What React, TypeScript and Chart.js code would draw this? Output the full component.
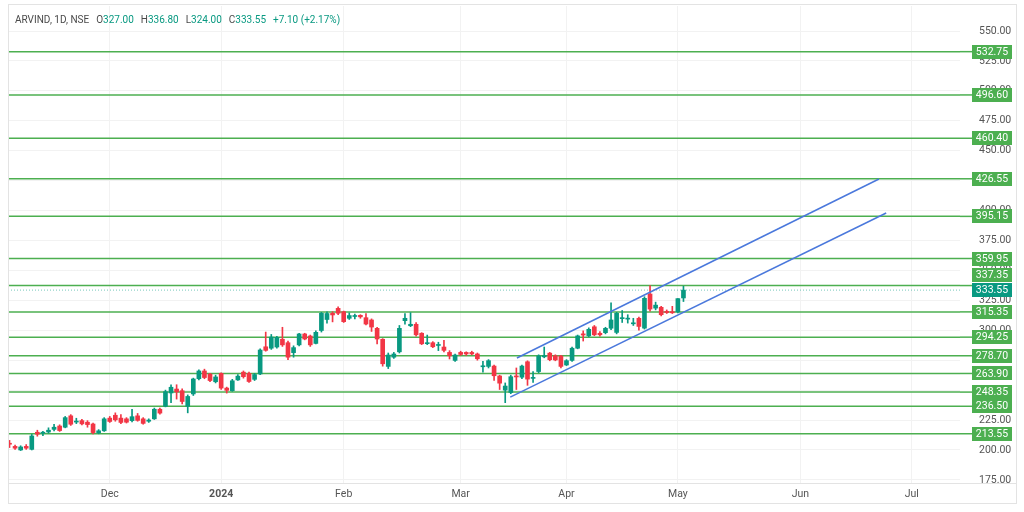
import React, { useEffect, useRef } from "react";
import { Chart, registerables } from "chart.js";

Chart.register(...registerables);

const FONT = "Roboto, 'Noto Sans', sans-serif";
const UP = "#089981";
const DOWN = "#f23645";
const LEVEL_GREEN = "#4caf50";
const CHANNEL_BLUE = "#4a78dc";

const headerSymbol = "ARVIND, 1D, NSE";
const headerOpen = "327.00";
const headerHigh = "336.80";
const headerLow = "324.00";
const headerClose = "333.55";
const headerChange = "+7.10 (+2.17%)";

const opens = [
  205.5, 203, 200, 203, 200.5, 214.8, 214, 215, 217.2, 220,
  219, 228.5, 223.3, 224.5, 223.2, 221.7, 214.3, 216, 226.6, 229,
  226.6, 226, 224.5, 228.5, 226, 224, 226, 234, 236.5, 247.6,
  250.9, 249.5, 236.5, 246.8, 259.5, 266, 263.4, 257, 264, 251.7,
  249.5, 258.5, 265, 264, 259, 263.5, 286.2, 285, 286, 292.5,
  289.6, 281.3, 287.8, 296.9, 295.2, 289, 299.8, 309, 314.2, 318.3,
  315.5, 310, 311.5, 312.5, 310.5, 308.6, 301.6, 292.5, 269.8, 277.5,
  282, 308, 303.8, 305, 297.5, 288.8, 289.6, 287.3, 286, 281.5,
  274.8, 281.5, 281.5, 281.5, 280.2, 269.5, 269.8, 270.1, 261.8, 250,
  248, 261.5, 260.8, 273.7, 259.8, 265.5, 277.8, 280.9, 278.7, 278.5,
  271, 274.8, 285, 297, 295.3, 302.9, 297.5, 298, 301.7, 298.2,
  309.7, 309.3, 305.4, 310, 301.8, 330.3, 318.5, 319.2, 315.8, 315.5,
  315.4, 327,
];
const highs = [
  208, 204, 203.5, 204.5, 213, 216.5, 215.5, 218.5, 221.5, 221,
  228, 229.5, 226.5, 225.5, 224.5, 222.5, 217, 227, 228, 231,
  229.5, 227, 234, 230.5, 227, 226, 235, 235, 250, 254.5,
  254.5, 251, 246, 260, 267, 267.5, 264, 262.5, 264.5, 252.5,
  259, 263, 266, 265, 264, 284.5, 298.5, 296.5, 295, 302.5,
  291, 287, 297.5, 297.5, 296, 299.5, 315, 315.5, 315.5, 319.5,
  316, 314.5, 313.5, 313, 314, 309.5, 302.5, 293, 281, 281.5,
  304, 314, 314.7, 306.5, 298, 296, 290.5, 290, 291.5, 283,
  280, 282.5, 282, 282.5, 281, 274, 275.5, 271, 262.5, 256,
  262.5, 268.5, 271, 274.5, 265.5, 279.5, 286, 281.5, 279.5, 279,
  275.5, 286, 296, 299.5, 302, 304, 299, 302.5, 323, 315,
  316.5, 313, 310, 311, 328, 337.35, 323.5, 320, 317, 320,
  326.5, 336.8,
];
const lows = [
  202, 200.5, 199.5, 200.5, 200, 211.5, 212, 214, 216, 215.5,
  218.5, 220.5, 222, 221, 219, 213.5, 213.5, 215.5, 223, 224,
  222, 222.5, 223.5, 224, 221.5, 223, 225.5, 230, 236, 239.5,
  242.5, 238.5, 231, 245.5, 258.5, 259.5, 257, 256, 250.5, 247.5,
  249, 258, 260, 256.5, 258, 263, 282.5, 284, 285, 286.5,
  275.5, 277.5, 287, 292, 286.5, 288.5, 298.5, 306, 307, 313,
  306.5, 309, 309.5, 310, 304.5, 299, 288.5, 270, 268, 276.5,
  281, 305, 303, 295, 288, 288, 285.5, 283, 282, 276,
  274, 279, 279, 279.5, 275, 265, 268.5, 258, 250.5, 239.5,
  247, 250.5, 259.5, 254, 256.5, 264.5, 277, 274.5, 274.5, 268.5,
  270.5, 274, 284.5, 291, 294.5, 295.5, 295, 297, 300.5, 297,
  306.5, 306, 304, 300, 301, 316, 317, 312, 314, 314,
  314.5, 324,
];
const closes = [
  204.8, 201.5, 202.5, 201.5, 211.7, 213.2, 214.3, 216.5, 219, 216.2,
  227, 221.5, 224, 221.8, 221.2, 214.5, 216, 226, 223.8, 225.2,
  223, 223.2, 227.8, 224.7, 222.2, 225, 234, 230.8, 248.7, 252.4,
  248.5, 240.5, 244.7, 259.3, 266, 260.5, 258, 261, 251.7, 249.8,
  257.8, 261.7, 261.2, 257.2, 263, 283.5, 283.2, 294.3, 294, 287.8,
  277.5, 285.5, 296.9, 292.7, 287.8, 298.3, 314.2, 314, 312.8, 314.2,
  307.2, 312.3, 312, 311.2, 305.2, 302.7, 292.7, 272, 279.3, 280.2,
  301.6, 310, 305, 296.2, 288.7, 289.3, 286.2, 287.8, 283.2, 278.7,
  279.3, 279.8, 280.2, 280.2, 276.2, 270, 274.6, 262, 255.8, 253.4,
  261.2, 261, 270.1, 259.2, 260.5, 278.5, 278.8, 275.4, 275.2, 269.8,
  274.6, 285, 295.3, 296, 300.8, 296.2, 296.2, 301.6, 308.6, 314.2,
  310.2, 309.8, 306.2, 303.2, 326.7, 317.7, 321, 313, 314.8, 314.6,
  326.45, 333.55,
];

const xTickPositions = [18, 38, 60, 81, 100, 120, 142, 162];
const xTickLabels = ["Dec", "2024", "Feb", "Mar", "Apr", "May", "Jun", "Jul"];
const priceTicks = [175, 200, 225, 250, 275, 300, 325, 350, 375, 400, 425, 450, 475, 500, 525, 550];
const levels = [532.75, 496.6, 460.4, 426.55, 395.15, 359.95, 337.35, 315.35, 294.25, 278.7, 263.9, 248.35, 236.5, 213.55];
const lastPrice = 333.55;
const channelUpper = [
  { x: 91.1, y: 276.8 },
  { x: 156.1, y: 426.4 },
];
const channelLower = [
  { x: 89.9, y: 244.2 },
  { x: 157.4, y: 398.0 },
];

const X_MIN = -0.27;
const X_MAX = 170.65;
const Y_MIN = 172.4;
const Y_MAX = 570.9;

const overlayPlugin = {
  id: "overlay",
  afterDraw(chart: any) {
    const { ctx, chartArea, scales } = chart;
    const ys = scales.y;
    ctx.save();
    // frame
    ctx.strokeStyle = "#e3e3e3";
    ctx.lineWidth = 1;
    ctx.strokeRect(chartArea.left + 0.5, chartArea.top - 1.5, 1016 - chartArea.left, 505 - chartArea.top);
    ctx.beginPath();
    ctx.moveTo(chartArea.left, chartArea.bottom + 0.5);
    ctx.lineTo(1016, chartArea.bottom + 0.5);
    ctx.stroke();

    // price boxes
    const boxLeft = chartArea.right + 12;
    const boxW = 40;
    const boxH = 14;
    const fixedY = ys.getPixelForValue(lastPrice);
    const items = levels.map((v) => {
      const py = ys.getPixelForValue(v);
      let cy = py;
      if (Math.abs(py - fixedY) < boxH + 1) {
        cy = py <= fixedY ? fixedY - boxH - 1 : fixedY + boxH + 1;
      }
      return { v, py, cy };
    });
    ctx.font = `10.5px ${FONT}`;
    ctx.textAlign = "center";
    ctx.textBaseline = "middle";
    for (const it of items) {
      ctx.strokeStyle = LEVEL_GREEN;
      ctx.lineWidth = 1.5;
      ctx.beginPath();
      ctx.moveTo(chartArea.right, it.py);
      ctx.lineTo(boxLeft, it.py);
      ctx.stroke();
      ctx.fillStyle = LEVEL_GREEN;
      ctx.fillRect(boxLeft, Math.round(it.cy - boxH / 2), boxW, boxH);
      ctx.fillStyle = "#ffffff";
      ctx.fillText(it.v.toFixed(2), boxLeft + boxW / 2, it.cy + 0.5);
    }
    ctx.fillStyle = UP;
    ctx.fillRect(boxLeft, Math.round(fixedY - boxH / 2), boxW, boxH);
    ctx.fillStyle = "#ffffff";
    ctx.fillText(lastPrice.toFixed(2), boxLeft + boxW / 2, fixedY + 0.5);

    // header
    ctx.textAlign = "left";
    ctx.font = `10px ${FONT}`;
    let x = chartArea.left + 7;
    const hy = 20;
    const seg = (t: string, c: string, gap: number) => {
      ctx.fillStyle = c;
      ctx.fillText(t, x, hy);
      x += ctx.measureText(t).width + gap;
    };
    seg(headerSymbol, "#4a4a4a", 7);
    seg("O", "#4a4a4a", 0);
    seg(headerOpen, UP, 7);
    seg("H", "#4a4a4a", 0);
    seg(headerHigh, UP, 7);
    seg("L", "#4a4a4a", 0);
    seg(headerLow, UP, 7);
    seg("C", "#4a4a4a", 0);
    seg(headerClose, UP, 7);
    seg(headerChange, UP, 0);
    ctx.restore();
  },
};

export default function App() {
  const ref = useRef<HTMLCanvasElement | null>(null);
  useEffect(() => {
    if (!ref.current) return;
    const idx = opens.map((_, i) => i);
    const colors = idx.map((i) => (closes[i] >= opens[i] ? UP : DOWN));
    const levelSets = levels.map((v) => ({
      type: "line" as const,
      data: [
        { x: X_MIN, y: v },
        { x: X_MAX, y: v },
      ],
      borderColor: LEVEL_GREEN,
      borderWidth: 1.5,
      pointRadius: 0,
      order: 5,
    }));
    const chart = new Chart(ref.current, {
      type: "bar",
      data: {
        datasets: [
          {
            type: "bar",
            data: idx.map((i) => ({ x: i, y: [lows[i], highs[i]] })) as any,
            backgroundColor: colors,
            barThickness: 1,
            grouped: false,
            order: 1,
          } as any,
          {
            type: "bar",
            data: idx.map((i) => ({ x: i, y: [opens[i], closes[i]] })) as any,
            backgroundColor: colors,
            barThickness: 4,
            minBarLength: 1,
            grouped: false,
            order: 0,
          } as any,
          ...levelSets,
          {
            type: "line",
            data: [
              { x: X_MIN, y: lastPrice },
              { x: X_MAX, y: lastPrice },
            ],
            borderColor: "rgba(8,153,129,0.55)",
            borderWidth: 1,
            borderDash: [1, 2],
            pointRadius: 0,
            order: 4,
          },
          {
            type: "line",
            data: channelUpper,
            borderColor: CHANNEL_BLUE,
            borderWidth: 1.5,
            pointRadius: 0,
            order: -1,
          },
          {
            type: "line",
            data: channelLower,
            borderColor: CHANNEL_BLUE,
            borderWidth: 1.5,
            pointRadius: 0,
            order: -1,
          },
        ] as any,
      },
      options: {
        animation: false,
        responsive: false,
        maintainAspectRatio: false,
        layout: { padding: { left: 8, right: 0, top: 6, bottom: 0 } },
        plugins: {
          legend: { display: false },
          tooltip: { enabled: false },
          title: { display: false },
        },
        scales: {
          x: {
            type: "linear",
            position: "bottom",
            offset: false,
            min: X_MIN,
            max: X_MAX,
            afterBuildTicks: (scale: any) => {
              scale.ticks = xTickPositions.map((v) => ({ value: v }));
            },
            afterFit: (scale: any) => {
              scale.height = 29;
              scale.paddingLeft = 0;
              scale.paddingRight = 0;
            },
            ticks: {
              autoSkip: false,
              maxRotation: 0,
              padding: 5,
              color: "#555555",
              font: (c: any) => ({
                family: FONT,
                size: 10.5,
                weight: c.tick && c.tick.value === 38 ? "bold" : "normal",
              }),
              callback: (value: any) => {
                const k = xTickPositions.indexOf(Number(value));
                return k >= 0 ? xTickLabels[k] : "";
              },
            },
            grid: { color: "#f2f2f2", drawTicks: false, offset: false },
            border: { display: false },
          },
          y: {
            type: "linear",
            position: "right",
            min: Y_MIN,
            max: Y_MAX,
            afterBuildTicks: (scale: any) => {
              scale.ticks = priceTicks.map((v) => ({ value: v }));
            },
            afterFit: (scale: any) => {
              scale.width = 64;
              scale.paddingTop = 0;
              scale.paddingBottom = 0;
            },
            ticks: {
              autoSkip: false,
              padding: 19,
              color: "#555555",
              font: { family: FONT, size: 10.5 },
              callback: (value: any) => Number(value).toFixed(2),
            },
            grid: { color: "#f2f2f2", drawTicks: false },
            border: { display: false },
          },
        },
      },
      plugins: [overlayPlugin],
    });
    return () => chart.destroy();
  }, []);

  return (
    <div style={{ position: "fixed", left: 0, top: 0, width: 1024, height: 512, background: "#ffffff" }}>
      <canvas ref={ref} width={1024} height={512} style={{ width: 1024, height: 512, display: "block" }} />
    </div>
  );
}
